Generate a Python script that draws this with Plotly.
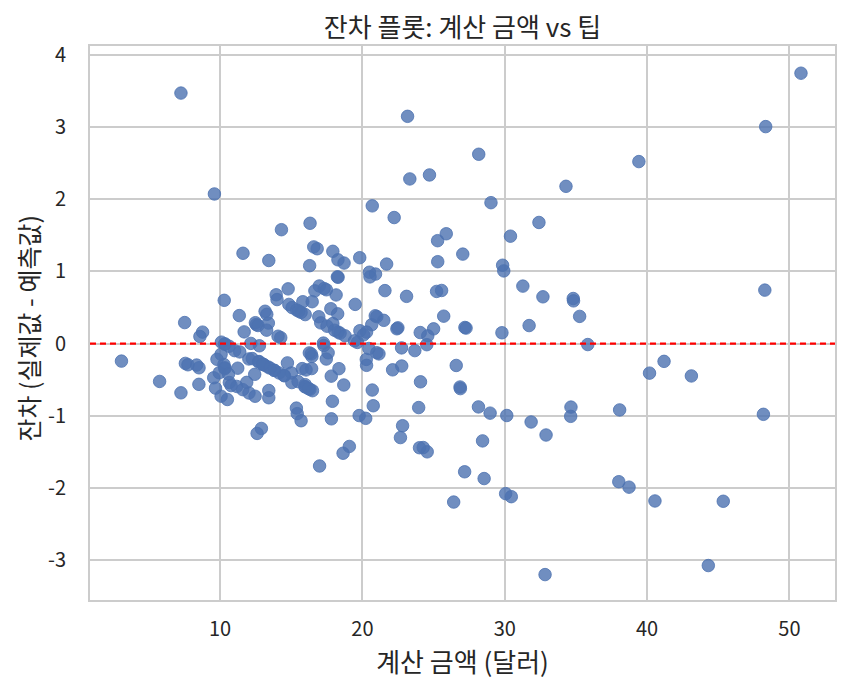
import numpy as np
import plotly.graph_objects as go

total_bill = [16.99,10.34,21.01,23.68,24.59,25.29,8.77,26.88,15.04,14.78,10.27,35.26,15.42,18.43,14.83,21.58,10.33,16.29,16.97,20.65,
17.92,20.29,15.77,39.42,19.82,17.81,13.37,12.69,21.7,19.65,9.55,18.35,15.06,20.69,17.78,24.06,16.31,16.93,18.69,31.27,
16.04,17.46,13.94,9.68,30.4,18.29,22.23,32.4,28.55,18.04,12.54,10.29,34.81,9.94,25.56,19.49,38.01,26.41,11.24,48.27,
20.29,13.81,11.02,18.29,17.59,20.08,16.45,3.07,20.23,15.01,12.02,17.07,26.86,25.28,14.73,10.51,17.92,27.2,22.76,17.29,
19.44,16.66,10.07,32.68,15.98,34.83,13.03,18.28,24.71,21.16,28.97,22.49,5.75,16.32,22.75,40.17,27.28,12.03,21.01,12.46,
11.35,15.38,44.3,22.42,20.92,15.36,20.49,25.21,18.24,14.31,14.0,7.25,38.07,23.95,25.71,17.31,29.93,10.65,12.43,24.08,
11.69,13.42,14.26,15.95,12.48,29.8,8.52,14.52,11.38,22.82,19.08,20.27,11.17,12.26,18.26,8.51,10.33,14.15,16.0,13.16,
17.47,34.3,41.19,27.05,16.43,8.35,18.64,11.87,9.78,7.51,14.07,13.13,17.26,24.55,19.77,29.85,48.17,25.0,13.39,16.49,
21.5,12.66,16.21,13.81,17.51,24.52,20.76,31.71,10.59,10.63,50.81,15.81,7.25,31.85,16.82,32.9,17.89,14.48,9.6,34.63,
34.65,23.33,45.35,23.17,40.55,20.69,20.9,30.46,18.15,23.1,15.69,19.81,28.44,15.48,16.58,7.56,10.34,43.11,13.0,13.51,
18.71,12.74,13.0,16.4,20.53,16.47,26.59,38.73,24.27,12.76,30.06,25.89,48.33,13.27,28.17,12.9,28.15,11.59,7.74,30.14,
12.16,13.42,8.58,15.98,13.42,16.27,10.09,20.45,13.28,22.12,24.01,15.69,11.61,10.77,15.53,10.07,12.6,32.83,35.83,29.03,
27.18,22.67,17.82,18.78]

tip = [1.01,1.66,3.5,3.31,3.61,4.71,2.0,3.12,1.96,3.23,1.71,5.0,1.57,3.0,3.02,3.92,1.67,3.71,3.5,3.35,
4.08,2.75,2.23,7.58,3.18,2.34,2.0,2.0,4.3,3.0,1.45,2.5,3.0,2.45,3.27,3.6,2.0,3.07,2.31,5.0,
2.24,2.54,3.06,1.32,5.6,3.0,5.0,6.0,2.05,3.0,2.5,2.6,5.2,1.56,4.34,3.51,3.0,1.5,1.76,6.73,
3.21,2.0,1.98,3.76,2.64,3.15,2.47,1.0,2.01,2.09,1.97,3.0,3.14,5.0,2.2,1.25,3.08,4.0,3.0,2.71,
3.0,3.4,1.83,5.0,2.03,5.17,2.0,4.0,5.85,3.0,3.0,3.5,1.0,4.3,3.25,4.73,4.0,1.5,3.0,1.5,
2.5,3.0,2.5,3.48,4.08,1.64,4.06,4.29,3.76,4.0,3.0,1.0,4.0,2.55,4.0,3.5,5.07,1.5,1.8,2.92,
2.31,1.68,2.5,2.0,2.52,4.2,1.48,2.0,2.0,2.18,1.5,2.83,1.5,2.0,3.25,1.25,2.0,2.0,2.0,2.75,
3.5,6.7,5.0,5.0,2.3,1.5,1.36,1.63,1.73,2.0,2.5,2.0,2.74,2.0,2.0,5.14,5.0,3.75,2.61,2.0,
3.5,2.5,2.0,2.0,3.0,3.48,2.24,4.5,1.61,2.0,10.0,3.16,5.15,3.18,4.0,3.11,2.0,2.0,4.0,3.55,
3.68,5.65,3.5,6.5,3.0,5.0,3.5,2.0,3.5,4.0,1.5,4.19,2.56,2.02,4.0,1.44,2.0,5.0,2.0,2.0,
4.0,2.01,2.0,2.5,4.0,3.23,3.41,3.0,2.03,2.23,2.0,5.16,9.0,2.5,6.5,1.1,3.0,1.5,1.44,3.09,
2.2,3.48,1.92,3.0,1.58,2.5,2.0,3.0,2.72,2.88,2.0,3.0,3.39,1.47,3.0,1.25,1.0,1.17,4.67,5.92,
2.0,2.0,1.75,3.0]

x_ticks = [10, 20, 30, 40, 50]
y_ticks = [-3, -2, -1, 0, 1, 2, 3, 4]
y_tick_text = ["-3", "-2", "-1", "0", "1", "2", "3", "4"]

x = np.array(total_bill)
y = np.array(tip)
slope, intercept = np.polyfit(x, y, 1)
residuals = y - (intercept + slope * x)

FONT = "Noto Sans CJK KR"
W, H = 848, 691
L, R, T, B = 90, 13, 46, 91
PW = W - L - R

fig = go.Figure()
fig.add_trace(go.Scatter(
    x=x, y=residuals, mode="markers",
    marker=dict(size=12.5, color="rgba(76,114,176,0.8)",
                line=dict(width=1, color="rgba(76,114,176,0.8)")),
    showlegend=False, hoverinfo="x+y"))

fig.add_shape(type="line", xref="paper", x0=0, x1=1, yref="y", y0=0, y1=0,
              line=dict(color="red", width=2.2, dash="6px,4px"), layer="above")

# y-axis title as annotation to place it precisely
fig.add_annotation(text="잔차 (실제값 - 예측값)", textangle=-90,
                   xref="paper", yref="paper", x=(28 - L) / PW, y=0.49,
                   xanchor="center", yanchor="middle", showarrow=False,
                   font=dict(size=25, color="#262626"))

fig.update_layout(
    width=W, height=H,
    margin=dict(l=L, r=R, t=T, b=B),
    paper_bgcolor="white", plot_bgcolor="white",
    font=dict(family=FONT, size=20, color="#262626"),
    title=dict(text="잔차 플롯: 계산 금액 vs 팁", xref="paper", x=0.5, xanchor="center",
               y=1 - 28/691, yanchor="middle", font=dict(size=26, color="#262626")),
    xaxis=dict(range=[0.86, 53.2], tickvals=x_ticks,
               showgrid=True, gridcolor="#cccccc", gridwidth=1.5,
               zeroline=False, showline=True, linecolor="#cccccc", linewidth=2, mirror=True,
               ticks="", ticklabelstandoff=10,
               title=dict(text="계산 금액 (달러)", font=dict(size=26), standoff=4)),
    yaxis=dict(range=[-3.55, 4.12], tickvals=y_ticks, ticktext=y_tick_text,
               showgrid=True, gridcolor="#cccccc", gridwidth=1.5,
               zeroline=False, showline=True, linecolor="#cccccc", linewidth=2, mirror=True,
               ticks="", ticklabelstandoff=18),
)

fig.write_html("out.html")
